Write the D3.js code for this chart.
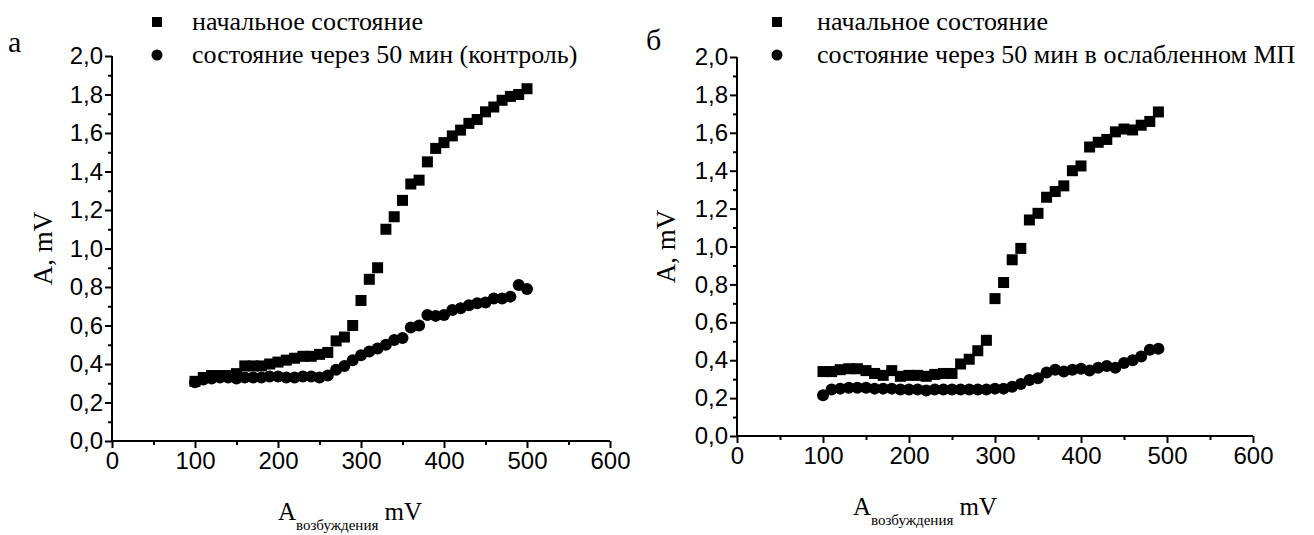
<!DOCTYPE html>
<html>
<head>
<meta charset="utf-8">
<script src="https://cdn.jsdelivr.net/npm/d3@7/dist/d3.min.js"></script>
<style>
  html, body { margin: 0; padding: 0; background: #fff; }
  svg { display: block; }
</style>
</head>
<body>
<svg id="chart" width="1314" height="535"></svg>
<script>
// Excitation amplitude (mV) for each measurement
const excitationA = [100,110,120,130,140,150,160,170,180,190,200,210,220,230,240,250,260,270,280,290,
                     300,310,320,330,340,350,360,370,380,390,400,410,420,430,440,450,460,470,480,490,500];
const excitationB = [100,110,120,130,140,150,160,170,180,190,200,210,220,230,240,250,260,270,280,290,
                     300,310,320,330,340,350,360,370,380,390,400,410,420,430,440,450,460,470,480,490];

// Panel а: initial state vs. 50 min later (control)
const initialA = [0.31,0.33,0.34,0.34,0.34,0.35,0.39,0.39,0.39,0.40,0.41,0.42,0.43,0.44,0.44,0.45,0.46,0.52,0.54,0.60,
                  0.73,0.84,0.90,1.10,1.165,1.25,1.335,1.355,1.45,1.52,1.55,1.585,1.615,1.65,1.67,1.71,1.735,1.77,1.79,1.80,1.83];
const controlA = [0.305,0.32,0.325,0.33,0.33,0.325,0.33,0.33,0.33,0.335,0.335,0.33,0.33,0.335,0.335,0.33,0.34,0.37,0.39,0.42,
                  0.445,0.465,0.48,0.50,0.525,0.535,0.59,0.60,0.655,0.65,0.655,0.68,0.69,0.705,0.715,0.72,0.74,0.74,0.75,0.81,0.79];

// Panel б: initial state vs. 50 min in weakened magnetic field
const initialB = [0.34,0.34,0.35,0.355,0.355,0.345,0.33,0.32,0.345,0.315,0.32,0.32,0.315,0.325,0.33,0.33,0.38,0.405,0.45,0.505,
                  0.725,0.81,0.93,0.99,1.14,1.175,1.26,1.29,1.32,1.40,1.425,1.525,1.55,1.565,1.605,1.62,1.615,1.64,1.66,1.71];
const weakB    = [0.215,0.245,0.25,0.255,0.255,0.255,0.25,0.25,0.25,0.245,0.245,0.245,0.24,0.245,0.245,0.245,0.245,0.245,0.245,0.245,
                  0.25,0.25,0.26,0.275,0.295,0.305,0.335,0.35,0.34,0.35,0.355,0.345,0.36,0.37,0.36,0.385,0.40,0.42,0.455,0.46];

// Axis ticks
const xMajor = [0,100,200,300,400,500,600];
const xMinor = [50,150,250,350,450,550];
const yMajor = [0,0.2,0.4,0.6,0.8,1.0,1.2,1.4,1.6,1.8,2.0];
const yMinor = [0.1,0.3,0.5,0.7,0.9,1.1,1.3,1.5,1.7,1.9];

// Text
const legendInitial = "начальное состояние";
const legendControl = "состояние через 50 мин (контроль)";
const legendWeak = "состояние через 50 мин в ослабленном МП";
const yTitle = "A, mV";
const xTitleMain = "A";
const xTitleSub = "возбуждения";
const xTitleUnit = " mV";

const svg = d3.select("#chart");
const fmt = v => d3.format(".1f")(v).replace(".", ",");
const SANS = "'Liberation Sans', Arial, sans-serif";
const SERIF = "'Liberation Serif', 'Times New Roman', serif";

function drawPanel(cfg) {
  const x = d3.scaleLinear().domain([0, 600]).range(cfg.xr);
  const y = d3.scaleLinear().domain([0, 2.0]).range(cfg.yr);
  const g = svg.append("g");

  // Bottom axis: labelled majors + short minors
  const gx = g.append("g").attr("transform", `translate(0,${cfg.yr[0]})`)
    .call(d3.axisBottom(x).tickValues(xMajor).tickSize(7).tickPadding(4).tickFormat(d3.format("d")));
  g.append("g").attr("transform", `translate(0,${cfg.yr[0]})`)
    .call(d3.axisBottom(x).tickValues(xMinor).tickSize(4).tickFormat(""))
    .select(".domain").remove();

  const gy = g.append("g").attr("transform", `translate(${cfg.xr[0]},0)`)
    .call(d3.axisLeft(y).tickValues(yMajor).tickSize(7).tickPadding(2).tickFormat(fmt));
  g.append("g").attr("transform", `translate(${cfg.xr[0]},0)`)
    .call(d3.axisLeft(y).tickValues(yMinor).tickSize(4).tickFormat(""))
    .select(".domain").remove();

  g.selectAll(".domain").attr("stroke", "#000").attr("stroke-width", 2);
  g.selectAll(".tick line").attr("stroke", "#000").attr("stroke-width", 2);
  g.selectAll(".tick text").attr("font-family", SANS).attr("font-size", 24).attr("fill", "#000");
  // plain axis lines without end caps
  gx.select(".domain").attr("d", `M${cfg.xr[0]},0H${cfg.xr[1]}`);
  gy.select(".domain").attr("d", `M0,${cfg.yr[0]}V${cfg.yr[1]}`);

  // Series: squares for initial state, circles for later state
  const sq = 11;
  g.append("g").selectAll("rect").data(cfg.xs.map((v, i) => [v, cfg.squares[i]]))
    .join("rect")
    .attr("x", d => x(d[0]) - sq / 2).attr("y", d => y(d[1]) - sq / 2)
    .attr("width", sq).attr("height", sq).attr("fill", "#000");
  g.append("g").selectAll("circle").data(cfg.xs.map((v, i) => [v, cfg.circles[i]]))
    .join("circle")
    .attr("cx", d => x(d[0])).attr("cy", d => y(d[1])).attr("r", 6).attr("fill", "#000");

  // Legend
  g.append("rect").attr("x", cfg.legX - 5).attr("y", cfg.legY[0] - 5).attr("width", 10).attr("height", 10).attr("fill", "#000");
  g.append("circle").attr("cx", cfg.legX).attr("cy", cfg.legY[1]).attr("r", 5.5).attr("fill", "#000");
  [legendInitial, cfg.second].forEach((t, i) => {
    g.append("text").attr("x", cfg.legX + cfg.legGap).attr("y", cfg.legY[i] + 8)
      .attr("font-family", SERIF).attr("font-size", 26).attr("fill", "#000").text(t);
  });

  // Panel letter
  g.append("text").attr("x", cfg.letter[0]).attr("y", cfg.letter[1])
    .attr("font-family", SERIF).attr("font-size", 30).attr("fill", "#000").text(cfg.name);

  // Y title
  const ymid = (cfg.yr[0] + cfg.yr[1]) / 2;
  g.append("text").attr("transform", `translate(${cfg.yTitleX},${ymid}) rotate(-90)`)
    .attr("text-anchor", "middle").attr("font-family", SERIF).attr("font-size", 27).attr("fill", "#000")
    .text(yTitle);

  // X title with subscript
  const xt = g.append("text").attr("x", cfg.xTitleX).attr("y", cfg.yr[0] + 79)
    .attr("text-anchor", "middle").attr("font-family", SERIF).attr("font-size", 25).attr("fill", "#000");
  xt.append("tspan").text(xTitleMain);
  xt.append("tspan").attr("font-size", 15).attr("dy", 10).text(xTitleSub);
  xt.append("tspan").attr("dy", -10).text(xTitleUnit);
}

drawPanel({
  name: "а", xr: [112, 610], yr: [441, 56], xs: excitationA,
  squares: initialA, circles: controlA, second: legendControl,
  legX: 157, legGap: 35, legY: [22, 55], letter: [8, 52], yTitleX: 52, xTitleX: 350
});
drawPanel({
  name: "б", xr: [737, 1253], yr: [436, 57], xs: excitationB,
  squares: initialB, circles: weakB, second: legendWeak,
  legX: 777, legGap: 40, legY: [22, 55], letter: [646, 50], yTitleX: 675, xTitleX: 925
});
</script>
</body>
</html>
